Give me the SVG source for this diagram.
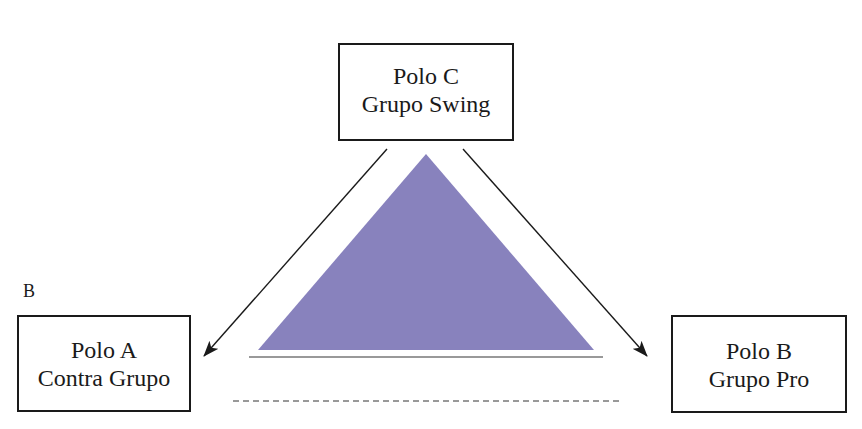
<svg xmlns="http://www.w3.org/2000/svg" width="862" height="429" viewBox="0 0 862 429">
<style>
.box{fill:#fff;stroke:#1a1a1a;stroke-width:2}
.t{font-family:'Liberation Serif','Times New Roman',serif;font-size:24px;fill:#1a1a1a;text-anchor:middle}
.conn{stroke:#1a1a1a;stroke-width:1.4;fill:none}
</style>
<defs>
<marker id="ah" markerWidth="16" markerHeight="12" refX="15" refY="6" orient="auto" markerUnits="userSpaceOnUse">
<path d="M0,0 L16,6 L0,12 L4,6 Z" fill="#1a1a1a"/>
</marker>
</defs>
<rect width="862" height="429" fill="#fff"/>
<g id="triangle">
<polygon points="426,154 258,350 594,350" fill="#8882bd"/>
<line x1="249" y1="357" x2="603" y2="357" stroke="#999" stroke-width="2"/>
<line x1="233" y1="401" x2="619" y2="401" stroke="#999" stroke-width="2" stroke-dasharray="6,4"/>
</g>
<g id="connectors">
<line class="conn" x1="387" y1="149" x2="204" y2="356" marker-end="url(#ah)"/>
<line class="conn" x1="463" y1="149" x2="647" y2="356" marker-end="url(#ah)"/>
</g>
<g id="poloC">
<rect class="box" x="339" y="44" width="174" height="96"/>
<text class="t" x="426" y="84">Polo C</text>
<text class="t" x="426" y="112">Grupo Swing</text>
</g>
<g id="poloA">
<rect class="box" x="18" y="316" width="172" height="95"/>
<text class="t" x="104" y="358">Polo A</text>
<text class="t" x="104" y="386">Contra Grupo</text>
</g>
<g id="poloB">
<rect class="box" x="672" y="316" width="174" height="96"/>
<text class="t" x="759" y="359">Polo B</text>
<text class="t" x="759" y="387">Grupo Pro</text>
</g>
<g id="labelB">
<text x="23" y="297" font-family="'Liberation Serif','Times New Roman',serif" font-size="18" fill="#1a1a1a">B</text>
</g>
</svg>
